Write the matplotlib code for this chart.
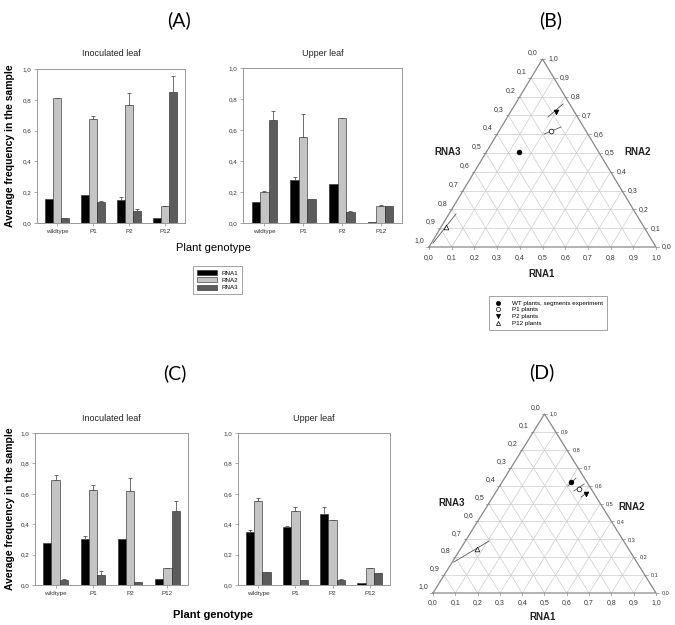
import numpy as np
import matplotlib.pyplot as plt
from matplotlib.patches import Patch
from matplotlib.lines import Line2D

plt.rcParams['font.family'] = ['Liberation Sans', 'DejaVu Sans']

W, H = 675, 625

# bar chart data
genotypes = ['wildtype', 'P1', 'P2', 'P12']
rna_names = ['RNA1', 'RNA2', 'RNA3']
bar_colors = ['#000000', '#c4c4c4', '#5c5c5c']

a_inoc_vals = [[0.155, 0.18, 0.15, 0.035],
               [0.81, 0.675, 0.765, 0.11],
               [0.03, 0.135, 0.08, 0.85]]
a_inoc_err = [[0, 0, 0.02, 0],
              [0.003, 0.02, 0.08, 0.003],
              [0, 0.01, 0.01, 0.105]]

a_upper_vals = [[0.135, 0.28, 0.25, 0.005],
                [0.2, 0.555, 0.675, 0.11],
                [0.665, 0.155, 0.07, 0.11]]
a_upper_err = [[0, 0.02, 0, 0],
               [0.005, 0.15, 0.003, 0.003],
               [0.06, 0, 0.01, 0]]

c_inoc_vals = [[0.275, 0.305, 0.305, 0.04],
               [0.69, 0.625, 0.62, 0.11],
               [0.035, 0.065, 0.02, 0.49]]
c_inoc_err = [[0, 0.02, 0, 0],
              [0.035, 0.035, 0.085, 0.005],
              [0.003, 0.03, 0, 0.06]]

c_upper_vals = [[0.35, 0.38, 0.465, 0.01],
                [0.555, 0.49, 0.43, 0.11],
                [0.085, 0.03, 0.035, 0.08]]
c_upper_err = [[0.015, 0.01, 0.05, 0],
               [0.015, 0.02, 0, 0],
               [0, 0, 0.003, 0]]

# ternary data (RNA1, RNA2 fractions; RNA3 = rest)
tern_names = ['WT plants, segments experiment', 'P1 plants', 'P2 plants', 'P12 plants']
tern_markers = ['o', 'o', 'v', '^']
tern_fill = ['black', 'white', 'black', 'white']

b_rna1 = [0.146, 0.229, 0.20, 0.022]
b_rna2 = [0.505, 0.617, 0.718, 0.106]
b_err_start = [None, (0.207, 0.601), (0.178, 0.691), (0.007, 0.021)]
b_err_end = [None, (0.262, 0.638), (0.21, 0.761), (0.031, 0.176)]

d_rna1 = [0.309, 0.364, 0.41, 0.074]
d_rna2 = [0.62, 0.581, 0.553, 0.246]
d_err_start = [(0.306, 0.598), (0.347, 0.570), (0.396, 0.536), (0.007, 0.173)]
d_err_end = [(0.32, 0.642), (0.373, 0.609), (0.413, 0.564), (0.106, 0.29)]


def rect(l, t, r, b):
    return [l / W, 1 - b / H, (r - l) / W, (b - t) / H]


def comma(v):
    return f'{v:.1f}'.replace('.', ',')


def bar_panel(ax, vals, errs, title):
    x = np.arange(len(genotypes))
    w = 0.22
    for i in range(3):
        ax.bar(x + (i - 1) * w, vals[i], w, color=bar_colors[i],
               edgecolor='#222222', linewidth=0.4,
               yerr=[np.zeros(4), errs[i]], capsize=1.6,
               error_kw=dict(ecolor='#555555', elinewidth=0.6, capthick=0.6))
    ax.set_xlim(-0.55, 3.55)
    ax.set_ylim(0, 1.0)
    ax.set_xticks(x)
    ax.set_xticklabels(genotypes, fontsize=4.5, color='#333333')
    yt = np.arange(0, 1.01, 0.2)
    ax.set_yticks(yt)
    ax.set_yticklabels([comma(v) for v in yt], fontsize=4.5, color='#333333')
    ax.tick_params(length=2, width=0.5, color='#888888', pad=2)
    for s in ax.spines.values():
        s.set_color('#999999')
        s.set_linewidth(0.7)
    ax.set_title(title, fontsize=6.5, pad=9, color='#222222')


def tern_xy(r1, r2):
    return np.asarray(r1) + 0.5 * np.asarray(r2), np.asarray(r2)


def ternary_panel(ax, r1, r2, e_start, e_end, fs_left, fs_right, fs_bot):
    ax.set_xlim(0, 1)
    ax.set_ylim(0, 1)
    ax.axis('off')
    ticks = np.round(np.arange(0.1, 1.0, 0.1), 1)
    gcol = '#cccccc'
    for v in ticks:
        ax.plot([0.5 * v, 1 - 0.5 * v], [v, v], color=gcol, lw=0.5)
        ax.plot([v, v + 0.5 * (1 - v)], [0, 1 - v], color=gcol, lw=0.5)
        ax.plot([1 - v, 0.5 * (1 - v)], [0, 1 - v], color=gcol, lw=0.5)
    ax.plot([0, 1, 0.5, 0], [0, 0, 1, 0], color='#888888', lw=0.9, clip_on=False)
    allt = np.round(np.arange(0, 1.01, 0.1), 1)
    for v in allt:
        # bottom: RNA1
        ax.plot([v, v], [0, -0.012], color='#888888', lw=0.5, clip_on=False)
        ax.text(v, -0.035, comma(v), ha='center', va='top', fontsize=fs_bot,
                color='#333333')
        # right: RNA2
        xr, yr = 1 - 0.5 * v, v
        ax.plot([xr, xr + 0.012], [yr, yr], color='#888888', lw=0.5, clip_on=False)
        ax.text(xr + 0.025, yr, comma(v), ha='left', va='center',
                fontsize=fs_right, color='#333333')
        # left: RNA3
        xl, yl = 0.5 * (1 - v), 1 - v
        ax.plot([xl - 0.012, xl], [yl, yl], color='#888888', lw=0.5, clip_on=False)
        ax.text(xl - 0.02, yl + 0.015, comma(v), ha='right', va='bottom',
                fontsize=fs_left, color='#333333')
    for k in range(len(r1)):
        if e_start[k] is not None:
            xs, ys = tern_xy([e_start[k][0], e_end[k][0]], [e_start[k][1], e_end[k][1]])
            ax.plot(xs, ys, color='#555555', lw=0.6)
        x, y = tern_xy(r1[k], r2[k])
        ax.plot(x, y, marker=tern_markers[k], ms=3.4, mfc=tern_fill[k],
                mec='black', mew=0.5, ls='none')


fig = plt.figure(figsize=(W / 100, H / 100), dpi=100)

ax1 = fig.add_axes(rect(37, 69, 185, 223))
bar_panel(ax1, a_inoc_vals, a_inoc_err, 'Inoculated leaf')
ax2 = fig.add_axes(rect(243, 68, 402, 223))
bar_panel(ax2, a_upper_vals, a_upper_err, 'Upper leaf')
ax3 = fig.add_axes(rect(35, 433, 188, 585))
bar_panel(ax3, c_inoc_vals, c_inoc_err, 'Inoculated leaf')
ax4 = fig.add_axes(rect(238, 433, 390, 585))
bar_panel(ax4, c_upper_vals, c_upper_err, 'Upper leaf')

fig.text(10 / W, 1 - 146 / H, 'Average frequency in the sample', rotation=90,
         ha='center', va='center', fontsize=7.5, fontweight='bold')
fig.text(10 / W, 1 - 509 / H, 'Average frequency in the sample', rotation=90,
         ha='center', va='center', fontsize=7.5, fontweight='bold')
fig.text(213 / W, 1 - 248 / H, 'Plant genotype', ha='center', va='center',
         fontsize=8)
fig.text(213 / W, 1 - 615 / H, 'Plant genotype', ha='center', va='center',
         fontsize=8, fontweight='bold')

bar_handles = [Patch(facecolor=c, edgecolor='#222222', linewidth=0.4) for c in bar_colors]
leg1 = fig.legend(bar_handles, rna_names, loc='upper left',
                  bbox_to_anchor=(190 / W, 1 - 263 / H), fontsize=4.5,
                  frameon=True, fancybox=False, edgecolor='#777777',
                  handlelength=3.2, handleheight=0.9, labelspacing=0.25,
                  borderpad=0.6, handletextpad=0.8)
leg1.get_frame().set_linewidth(0.6)

axb = fig.add_axes(rect(429, 59, 656, 247))
ternary_panel(axb, b_rna1, b_rna2, b_err_start, b_err_end, 5, 5, 5)
axd = fig.add_axes(rect(433, 414, 656, 593))
ternary_panel(axd, d_rna1, d_rna2, d_err_start, d_err_end, 5, 4, 5)

for axt, (l3, l2, l1) in [(axb, ((448, 152), (638, 152), (542, 274))),
                          (axd, ((452, 503), (632, 507), (543, 617)))]:
    fig.text(l3[0] / W, 1 - l3[1] / H, 'RNA3', ha='center', va='center',
             fontsize=7, fontweight='bold', color='#222222')
    fig.text(l2[0] / W, 1 - l2[1] / H, 'RNA2', ha='center', va='center',
             fontsize=7, fontweight='bold', color='#222222')
    fig.text(l1[0] / W, 1 - l1[1] / H, 'RNA1', ha='center', va='center',
             fontsize=7, fontweight='bold', color='#222222')

tern_handles = [Line2D([], [], marker=m, ms=3, mfc=f, mec='black', mew=0.5, ls='none')
                for m, f in zip(tern_markers, tern_fill)]
leg2 = fig.legend(tern_handles, tern_names, loc='upper left',
                  bbox_to_anchor=(486 / W, 1 - 293 / H), fontsize=4.5,
                  frameon=True, fancybox=False, edgecolor='#777777',
                  handlelength=1.5, labelspacing=0.2, borderpad=0.7,
                  handletextpad=1.4)
leg2.get_frame().set_linewidth(0.6)

for lab, (x, y) in [('(A)', (179, 20)), ('(B)', (551, 20)),
                    ('(C)', (175, 373)), ('(D)', (542, 372))]:
    fig.text(x / W, 1 - y / H, lab, ha='center', va='center', fontsize=14,
             family=['Lato', 'DejaVu Sans'])

plt.savefig('out.png', dpi=100)
